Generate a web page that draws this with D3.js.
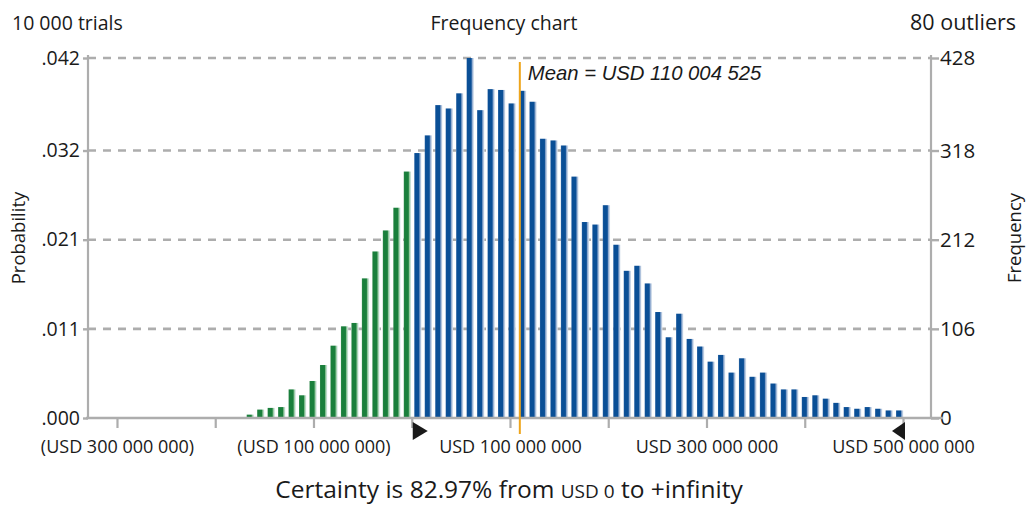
<!DOCTYPE html>
<html>
<head>
<meta charset="utf-8">
<script src="https://cdn.jsdelivr.net/npm/d3@7/dist/d3.min.js"></script>
<style>
  html, body { margin: 0; padding: 0; background: #fff; }
  svg { display: block; }
  text { font-family: "Open Sans", sans-serif; fill: #1a1a1a; }
</style>
</head>
<body>
<svg id="chart" width="1029" height="505"></svg>
<script>
// ---------- data ----------
const trials = 10000;
const outliers = 80;
const binWidth = 10.66e6;           // USD per bin
const binStart = -16 * binWidth;    // lower edge of first bin (USD)
const certaintyMin = 0;             // certainty range lower bound (USD)
const displayMax = binStart + 63 * binWidth; // right grabber position
const meanValue = 110004525;
const frequencies = [
  4, 10, 12, 13, 34, 27, 44, 63, 86, 109, 113, 166, 198, 223, 250, 293,
  315, 336, 372, 368, 386, 428, 366, 391, 390, 374, 389, 376, 332, 330, 324, 287,
  233, 230, 253, 206, 175, 181, 160, 126, 96, 124, 94, 85, 67, 75, 54, 71,
  49, 54, 41, 34, 34, 25, 27, 23, 18, 13, 11, 13, 11, 9, 9
];
const freqTicks = [0, 106, 212, 318, 428];
const probLabels = [".000", ".011", ".021", ".032", ".042"];
const xTicks = [-300e6, -200e6, -100e6, 0, 100e6, 200e6, 300e6, 400e6, 500e6];
const xLabelled = [-300e6, -100e6, 100e6, 300e6, 500e6];
const xDomain = [-329.5e6, 528.5e6];
const yDomain = [0, 428];

// ---------- layout ----------
const svg = d3.select("#chart");
const L = 88, R = 931, T = 58, B = 418;
const x = d3.scaleLinear().domain(xDomain).range([L, R]);
const y = d3.scaleLinear().domain(yDomain).range([B, T]);
const gray = "#adadad";

const fmtNum = v => d3.format(",")(Math.abs(v)).replace(/,/g, " ");
const fmtUSD = v => v < 0 ? "(USD " + fmtNum(v) + ")" : "USD " + fmtNum(v);

// gradients
const defs = svg.append("defs");
function grad(id, dark, light, edge) {
  const g = defs.append("linearGradient").attr("id", id)
    .attr("x1", "0").attr("x2", "1").attr("y1", "0").attr("y2", "0");
  [[0, edge], [0.12, dark], [0.62, dark], [0.78, light], [1, "#e6edf3"]]
    .forEach(([o, c]) => g.append("stop").attr("offset", o).attr("stop-color", c));
}
grad("gBlue", "#0a4f96", "#8ea9cf", "#3a6faa");
grad("gGreen", "#1a7f3c", "#93c89d", "#3e9157");

// grid lines
svg.append("g").selectAll("line").data(freqTicks.filter(d => d > 0)).join("line")
  .attr("x1", L).attr("x2", R).attr("y1", d => y(d)).attr("y2", d => y(d))
  .attr("stroke", gray).attr("stroke-width", 2.6).attr("stroke-dasharray", "8,7");

// bars
const barPad = 2.5, barW = 7.3;
svg.append("g").selectAll("rect").data(frequencies).join("rect")
  .attr("x", (d, i) => x(binStart + i * binWidth) + barPad)
  .attr("width", barW)
  .attr("y", d => y(d))
  .attr("height", d => y(0) - y(d))
  .attr("fill", (d, i) => (binStart + i * binWidth) >= certaintyMin - 1 ? "url(#gBlue)" : "url(#gGreen)");

// left axis
const gl = svg.append("g").attr("transform", `translate(${L},0)`)
  .call(d3.axisLeft(y).tickValues(freqTicks).tickFormat((d, i) => probLabels[i]).tickSize(5).tickPadding(3));
// right axis
const gr = svg.append("g").attr("transform", `translate(${R},0)`)
  .call(d3.axisRight(y).tickValues(freqTicks).tickSize(8).tickPadding(1));
[gl, gr].forEach(g => {
  g.select(".domain").attr("stroke", gray).attr("stroke-width", 2.2).attr("d", "M0,55V" + B);
  g.selectAll(".tick line").attr("stroke", gray).attr("stroke-width", 2.4);
  g.selectAll(".tick text").style("font-family", "Open Sans").style("font-size", "19.5px").attr("fill", "#1a1a1a");
});
gr.selectAll(".tick text").style("font-size", "20.5px");

// bottom axis
const gb = svg.append("g").attr("transform", `translate(0,${B})`)
  .call(d3.axisBottom(x).tickValues(xTicks)
    .tickFormat(v => xLabelled.includes(v) ? fmtUSD(v) : "").tickSize(10).tickPadding(12));
gb.select(".domain").remove();
gb.selectAll(".tick line").attr("stroke", gray).attr("stroke-width", 2.2).attr("y1", 1);
gb.selectAll(".tick text").style("font-family", "Open Sans").style("font-size", "18px").attr("fill", "#1a1a1a");
svg.append("line").attr("x1", L - 2).attr("x2", R + 12).attr("y1", B).attr("y2", B)
  .attr("stroke", gray).attr("stroke-width", 2.6);

// mean line
svg.append("line").attr("x1", x(meanValue)).attr("x2", x(meanValue))
  .attr("y1", T + 4).attr("y2", B + 16).attr("stroke", "#eea51c").attr("stroke-width", 2);
svg.append("text").attr("x", x(meanValue) + 8).attr("y", T + 22)
  .style("font-family", "Liberation Sans, Arial, sans-serif").style("font-style", "italic")
  .style("font-size", "20.3px").attr("fill", "#2a2a2a")
  .text("Mean = USD " + fmtNum(meanValue));

// grabbers (triangles)
const xa = x(certaintyMin) + 1, xb = x(displayMax) + 1;
svg.append("path").attr("d", `M${xa},${B + 4}L${xa + 15},${B + 13}L${xa},${B + 22}Z`).attr("fill", "#1a1a1a");
svg.append("path").attr("d", `M${xb},${B + 4}L${xb - 13},${B + 13}L${xb},${B + 22}Z`).attr("fill", "#1a1a1a");

// titles
const fs = "19.5px";
svg.append("text").attr("x", 12).attr("y", 30).style("font-size", fs).text(d3.format(",")(trials).replace(/,/g, " ") + " trials");
svg.append("text").attr("x", 504).attr("y", 30).attr("text-anchor", "middle").style("font-size", fs).text("Frequency chart");
svg.append("text").attr("x", 1016).attr("y", 30).attr("text-anchor", "end").style("font-size", "21.5px").text(outliers + " outliers");
svg.append("text").attr("transform", "translate(25,238) rotate(-90)").attr("text-anchor", "middle").style("font-size", "18.5px").text("Probability");
svg.append("text").attr("transform", "translate(1021,238) rotate(-90)").attr("text-anchor", "middle").style("font-size", "18.5px").text("Frequency");

const cert = svg.append("text").attr("x", 509).attr("y", 498).attr("text-anchor", "middle").style("font-size", "24.5px");
cert.append("tspan").text("Certainty is 82.97% from ");
cert.append("tspan").style("font-size", "19px").text("USD 0");
cert.append("tspan").text(" to +infinity");
</script>
</body>
</html>
